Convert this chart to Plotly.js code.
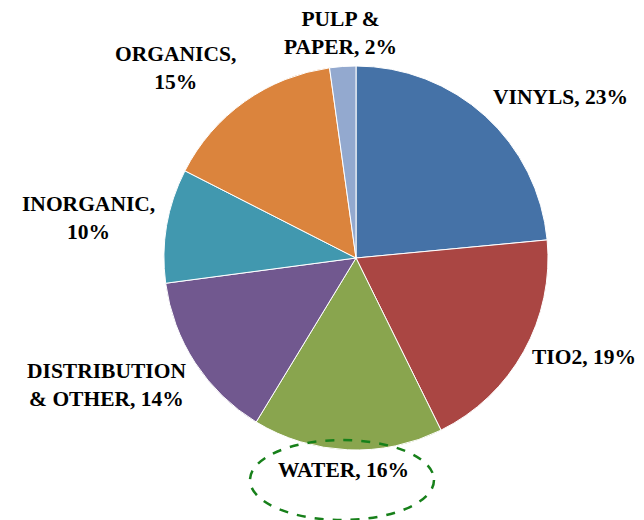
<!DOCTYPE html>
<html>
<head>
<meta charset="utf-8">
<script src="https://cdn.plot.ly/plotly-3.0.1.min.js"></script>
<style>html,body{margin:0;padding:0;background:#fff;}#chart{width:644px;height:520px;}</style>
</head>
<body>
<div id="chart"></div>
<script>
const categories = ["VINYLS", "TIO2", "WATER", "DISTRIBUTION & OTHER", "INORGANIC", "ORGANICS", "PULP & PAPER"];
const values = [23.5, 19.2, 16.0, 14.2, 9.6, 15.3, 2.2];
const labelText = ["VINYLS, 23%", "TIO2, 19%", "WATER, 16%", "DISTRIBUTION<br>& OTHER, 14%", "INORGANIC,<br>10%", "ORGANICS,<br>15%", "PULP &<br>PAPER, 2%"];
const colors = ["#4572A7", "#AA4643", "#89A54E", "#71588F", "#4198AF", "#DB843D", "#93A9CF"];

// label positions (paper coords)
const labelPos = [
  [0.870, 0.813],
  [0.907, 0.313],
  [0.534, 0.096],
  [0.166, 0.260],
  [0.137, 0.580],
  [0.272, 0.870],
  [0.528, 0.937]
];

const font = {family: "'Liberation Serif', 'Times New Roman', serif", size: 21.5, color: "#000"};

const annotations = labelText.map((t, i) => ({
  text: "<b>" + t + "</b>",
  x: labelPos[i][0], y: labelPos[i][1],
  xref: "paper", yref: "paper",
  xanchor: "center", yanchor: "middle",
  showarrow: false,
  align: "center",
  font: font
}));

const trace = {
  type: "pie",
  labels: categories,
  values: values,
  sort: false,
  direction: "clockwise",
  rotation: 0,
  textinfo: "none",
  hoverinfo: "label+percent",
  marker: {colors: colors, line: {color: "#ffffff", width: 1}},
  domain: {x: [164/644, 548/644], y: [1 - 450/520, 1 - 66/520]}
};

const layout = {
  width: 644, height: 520,
  margin: {l: 0, r: 0, t: 0, b: 0},
  paper_bgcolor: "#fff",
  showlegend: false,
  annotations: annotations,
  shapes: [{
    type: "circle", xref: "paper", yref: "paper",
    x0: 250/644, x1: 434/644, y0: 1 - 520/520, y1: 1 - 440/520,
    line: {color: "#17801A", width: 2.5, dash: "dash"}
  }]
};

Plotly.newPlot("chart", [trace], layout, {displayModeBar: false, staticPlot: true});
</script>
</body>
</html>
